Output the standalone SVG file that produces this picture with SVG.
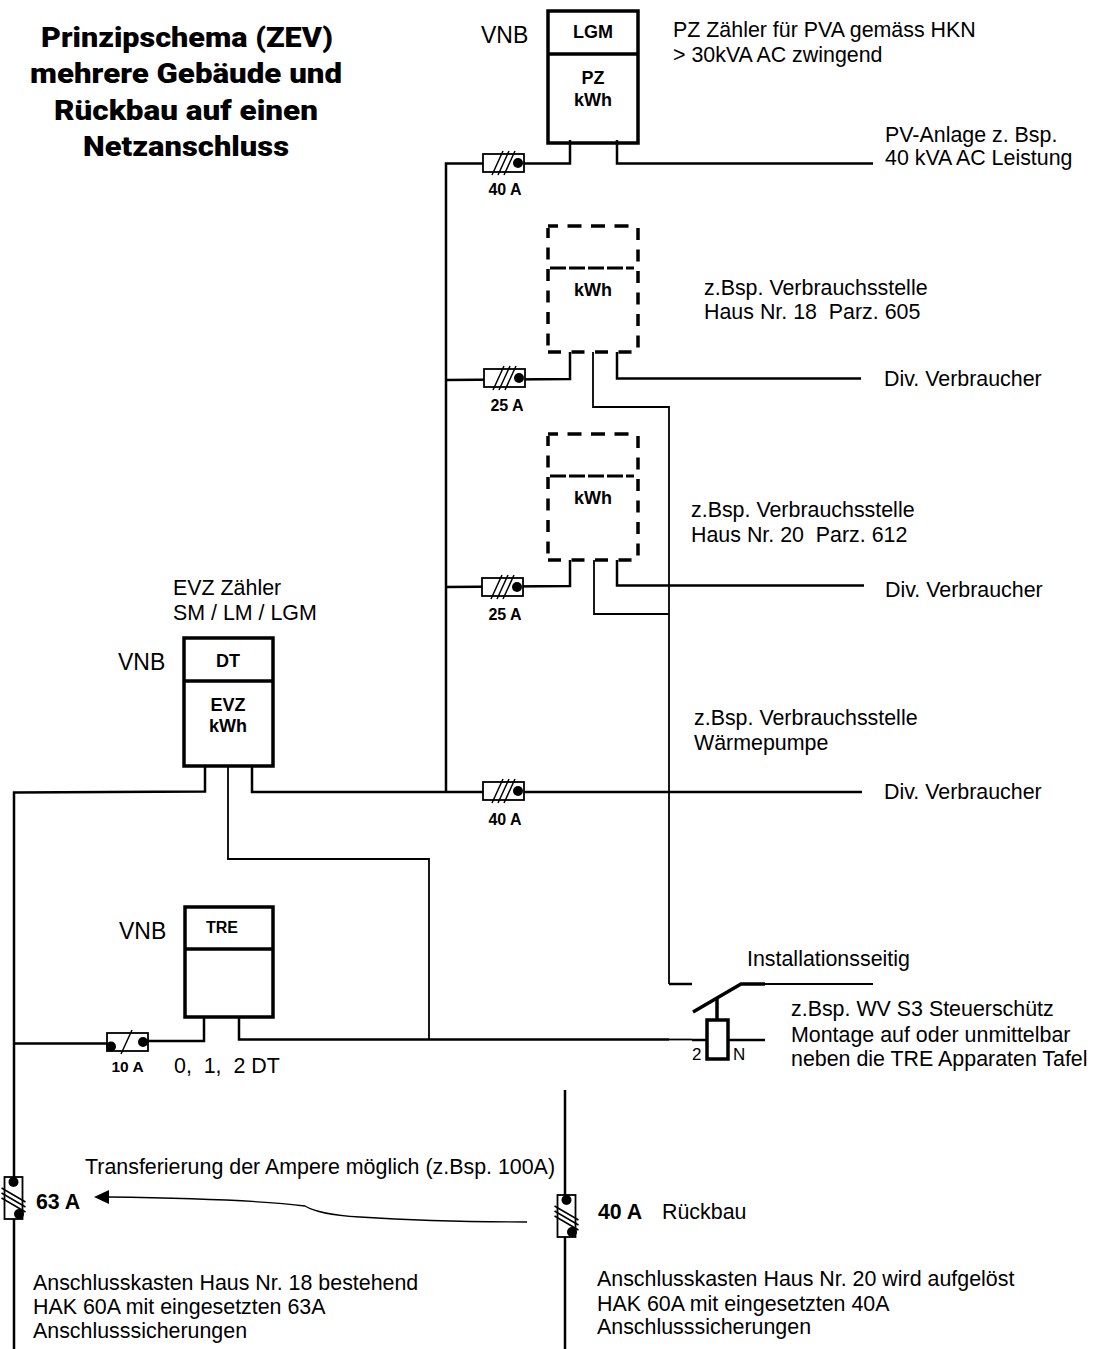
<svg xmlns="http://www.w3.org/2000/svg" width="1096" height="1349" viewBox="0 0 1096 1349">
<style>
text{font-family:"Liberation Sans",Arial,sans-serif;fill:#000;white-space:pre}
.t{font-size:21.400px}
.m{font-size:23px}
.b{font-weight:bold;font-size:18px;text-anchor:middle}
.s{font-weight:bold;font-size:16px;text-anchor:middle}
.a{font-weight:bold;font-size:21.330px}
.title{font-family:"Roboto","Noto Sans",sans-serif;font-weight:900;font-size:28px;text-anchor:middle}
.box{fill:none;stroke:#000;stroke-width:3.500}
.dh{fill:none;stroke:#000;stroke-width:3.500;stroke-dasharray:14 9.500;stroke-dashoffset:4}
.dv{fill:none;stroke:#000;stroke-width:3.500;stroke-dasharray:12 9.500}
.dd{fill:none;stroke:#000;stroke-width:3;stroke-dasharray:16 3}
.w3{fill:none;stroke:#000;stroke-width:2.500}
.w2{fill:none;stroke:#000;stroke-width:1.800}
.f{fill:#fff;stroke:#000;stroke-width:1.800}
.h{fill:none;stroke:#000;stroke-width:1.500}
</style>
<defs>
<g id="fuse3"><rect class="f" x="0" y="0" width="41" height="18"/><path class="h" d="M9 21 20-3M15 21 26-3M21 21 32-3"/><circle cx="35" cy="9" r="5"/></g>
<g id="vfuse"><rect class="f" x="0" y="0" width="18" height="42"/><circle cx="9" cy="5" r="5"/><circle cx="14.500" cy="37" r="5"/><path class="h" d="M-3 11 21 25M-3 16 21 30M-3 21 21 35"/></g>
<g id="dashed"><path class="dh" d="M548 0H638"/><path class="dv" d="M638 2V126"/><path class="dv" d="M548 2V126" stroke-dashoffset="2"/><path class="dh" d="M548 126H632" style="stroke-dashoffset:0;stroke-dasharray:13 10.500"/><path class="dd" d="M550 42H634"/></g>
</defs>
<g id="title">
<text class="title" x="187" y="47" textLength="292" lengthAdjust="spacingAndGlyphs">Prinzipschema (ZEV)</text>
<text class="title" x="186" y="83" textLength="312" lengthAdjust="spacingAndGlyphs">mehrere Gebäude und</text>
<text class="title" x="186" y="120" textLength="264" lengthAdjust="spacingAndGlyphs">Rückbau auf einen</text>
<text class="title" x="186" y="156" textLength="206" lengthAdjust="spacingAndGlyphs">Netzanschluss</text>
</g>
<g id="connectors">
<path class="w3" d="M570 140V163.500H446V792M617 140V163.500H873"/>
<path class="w3" d="M570 352V379L446 380M617 352V378.500H861"/>
<path class="w2" d="M593 352V407H669V984"/>
<path class="w3" d="M570 560V586L446 587M617 560V585.500H864"/>
<path class="w2" d="M594 560V614H669"/>
<path class="w3" d="M205 766V791.500L14 792.500V1349M252 766V792H862"/>
<path class="w2" d="M228 766V859H429V1039"/>
<path class="w3" d="M204 1017V1041H146M107 1043.500H14M239 1017V1039.500H669"/>
<path class="w2" d="M669 1039.500H692"/>
<path class="w3" d="M669 984H692"/>
<path class="w3" d="M565 1090V1349"/>
<path d="M108 1197C180 1198 260 1200 305 1206C315 1212 330 1215 360 1217C420 1221 480 1222 527 1222" fill="none" stroke="#000" stroke-width="1.300"/>
<polygon points="94,1197 109,1190 109,1204"/>
</g>
<g id="node-lgm"><rect class="box" x="548" y="11" width="90" height="132"/><path class="box" d="M548 54H638"/><text class="b" x="593" y="38">LGM</text><text class="b" x="593" y="84">PZ</text><text class="b" x="593" y="106">kWh</text></g>
<g id="node-vb1"><use href="#dashed" y="226"/><text class="b" x="593" y="296">kWh</text></g>
<g id="node-vb2"><use href="#dashed" y="434"/><text class="b" x="593" y="504">kWh</text></g>
<g id="node-evz"><rect class="box" x="184" y="638" width="89" height="128"/><path class="box" d="M184 681H273"/><text class="b" x="228" y="667">DT</text><text class="b" x="228" y="711">EVZ</text><text class="b" x="228" y="732">kWh</text></g>
<g id="node-tre"><rect class="box" x="185" y="907" width="88" height="110"/><path class="box" d="M185 949H273"/><text class="s" x="222" y="933">TRE</text></g>
<g id="fuse-pv"><use href="#fuse3" x="483" y="154"/><text class="s" x="505" y="195">40 A</text></g>
<g id="fuse-18"><use href="#fuse3" x="484" y="369"/><text class="s" x="507" y="411">25 A</text></g>
<g id="fuse-20"><use href="#fuse3" x="482" y="578"/><text class="s" x="505" y="620">25 A</text></g>
<g id="fuse-main"><use href="#fuse3" x="483" y="782"/><text class="s" x="505" y="825">40 A</text></g>
<g id="fuse-10"><rect class="f" x="107" y="1033" width="41" height="18"/><circle cx="111" cy="1046.500" r="5"/><circle cx="143" cy="1042" r="5"/><path class="h" d="M121 1054 132 1030"/><text class="s" x="127.500" y="1072" style="font-size:15.500px">10 A</text></g>
<g id="fuse-63"><use href="#vfuse" x="4.500" y="1177"/><text class="a" x="36" y="1209">63 A</text></g>
<g id="fuse-40"><use href="#vfuse" x="557.500" y="1195"/><text class="a" x="598" y="1219">40 A</text></g>
<g id="switch">
<path class="box" d="M693 1012 741 984H765"/><path class="w2" d="M765 984H873"/>
<path class="box" d="M717 999V1020"/>
<rect class="box" x="707" y="1020" width="21" height="39"/>
<path class="w3" d="M692 1040H707M728 1040H765"/>
<text x="692" y="1060" style="font-size:17px">2</text><text x="733" y="1060" style="font-size:17px">N</text>
</g>
<g id="labels">
<text class="m" x="481" y="43">VNB</text>
<text class="m" x="118" y="670">VNB</text>
<text class="m" x="119" y="939">VNB</text>
<text class="t" x="673" y="37">PZ Zähler für PVA gemäss HKN</text>
<text class="t" x="673" y="62">&gt; 30kVA AC zwingend</text>
<text class="t" x="885" y="142">PV-Anlage z. Bsp.</text>
<text class="t" x="885" y="165">40 kVA AC Leistung</text>
<text class="t" x="704" y="295">z.Bsp. Verbrauchsstelle</text>
<text class="t" x="704" y="319">Haus Nr. 18  Parz. 605</text>
<text class="t" x="884" y="386">Div. Verbraucher</text>
<text class="t" x="691" y="517">z.Bsp. Verbrauchsstelle</text>
<text class="t" x="691" y="542">Haus Nr. 20  Parz. 612</text>
<text class="t" x="885" y="597">Div. Verbraucher</text>
<text class="t" x="694" y="725">z.Bsp. Verbrauchsstelle</text>
<text class="t" x="694" y="750">Wärmepumpe</text>
<text class="t" x="884" y="799">Div. Verbraucher</text>
<text class="t" x="173" y="595">EVZ Zähler</text>
<text class="t" x="173" y="620">SM / LM / LGM</text>
<text class="t" x="174" y="1073">0,  1,  2 DT</text>
<text class="t" x="747" y="966">Installationsseitig</text>
<text class="t" x="791" y="1016">z.Bsp. WV S3 Steuerschütz</text>
<text class="t" x="791" y="1042">Montage auf oder unmittelbar</text>
<text class="t" x="791" y="1066">neben die TRE Apparaten Tafel</text>
<text class="t" x="85" y="1174">Transferierung der Ampere möglich (z.Bsp. 100A)</text>
<text class="t" x="662" y="1219">Rückbau</text>
<text class="t" x="33" y="1290">Anschlusskasten Haus Nr. 18 bestehend</text>
<text class="t" x="33" y="1314">HAK 60A mit eingesetzten 63A</text>
<text class="t" x="33" y="1338">Anschlusssicherungen</text>
<text class="t" x="597" y="1286">Anschlusskasten Haus Nr. 20 wird aufgelöst</text>
<text class="t" x="597" y="1311">HAK 60A mit eingesetzten 40A</text>
<text class="t" x="597" y="1334">Anschlusssicherungen</text>
</g>
</svg>
